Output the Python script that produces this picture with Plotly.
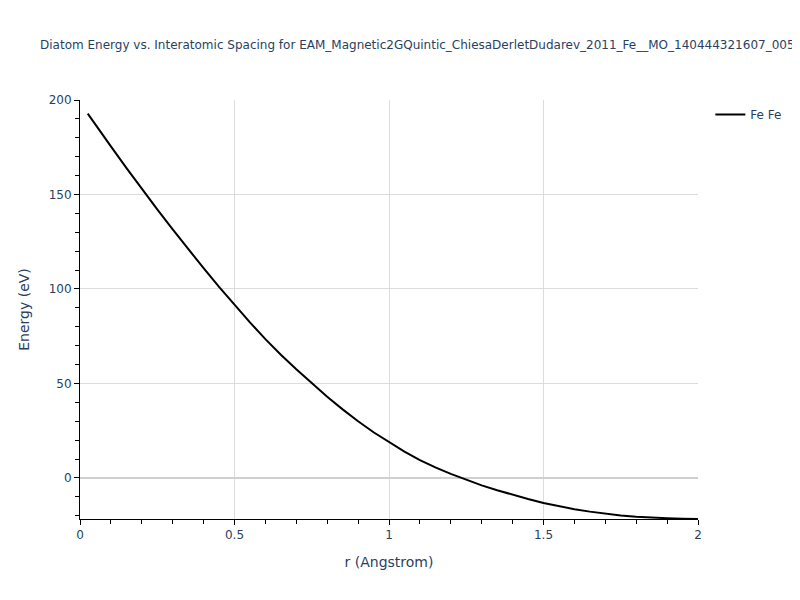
import plotly.graph_objects as go

r_values = [0.025, 0.05, 0.1, 0.15, 0.2, 0.25, 0.3, 0.35, 0.4, 0.45, 0.5, 0.55, 0.6,
            0.65, 0.7, 0.75, 0.8, 0.85, 0.9, 0.95, 1.0, 1.05, 1.1, 1.15, 1.2, 1.25,
            1.3, 1.35, 1.4, 1.45, 1.5, 1.55, 1.6, 1.65, 1.7, 1.75, 1.8, 1.85, 1.9,
            1.95, 2.0]
energy_values = [192.8, 187.2, 175.5, 164.1, 153.0, 142.1, 131.5, 121.1, 111.0, 101.1,
                 91.5, 82.3, 73.5, 65.2, 57.5, 50.0, 43.0, 36.3, 30.0, 24.2, 19.0,
                 14.0, 9.5, 5.6, 2.2, -0.9, -3.9, -6.5, -8.9, -11.1, -13.2, -15.0,
                 -16.5, -17.8, -18.9, -19.8, -20.5, -21.0, -21.3, -21.55, -21.7]
series_name = "Fe Fe"
title_text = ("Diatom Energy vs. Interatomic Spacing for "
              "EAM_Magnetic2GQuintic_ChiesaDerletDudarev_2011_Fe__MO_140444321607_005")

fig = go.Figure()
fig.add_trace(go.Scatter(x=r_values, y=energy_values, mode="lines", name=series_name,
                         line=dict(color="black", width=2)))

fig.update_layout(
    width=800, height=600,
    template="plotly_white",
    font=dict(family="DejaVu Sans", size=12),
    margin=dict(l=72, r=110, t=92, b=89),
    title=dict(text=title_text, x=0.04, xanchor="left", y=0.938, yanchor="middle",
               font=dict(size=12)),
    showlegend=True,
    legend=dict(x=1.02, y=1, xanchor="left", yanchor="top"),
    xaxis=dict(title=dict(text="r (Angstrom)", font=dict(size=14)), range=[0, 2],
               showline=True, linecolor="black", ticks="outside", tickcolor="black",
               dtick=0.5, zeroline=False,
               minor=dict(ticks="outside", dtick=0.1, tickcolor="black", ticklen=4)),
    yaxis=dict(title=dict(text="Energy (eV)", font=dict(size=14)),
               range=[min(energy_values), 200],
               showline=True, linecolor="black", ticks="outside", tickcolor="black",
               dtick=50, zeroline=True, zerolinecolor="#d0d0d0", zerolinewidth=2,
               minor=dict(ticks="outside", dtick=10, tickcolor="black", ticklen=4)),
)
fig.update_xaxes(gridcolor="#dcdcdc")
fig.update_yaxes(gridcolor="#dcdcdc")

fig.write_html("out.html")
